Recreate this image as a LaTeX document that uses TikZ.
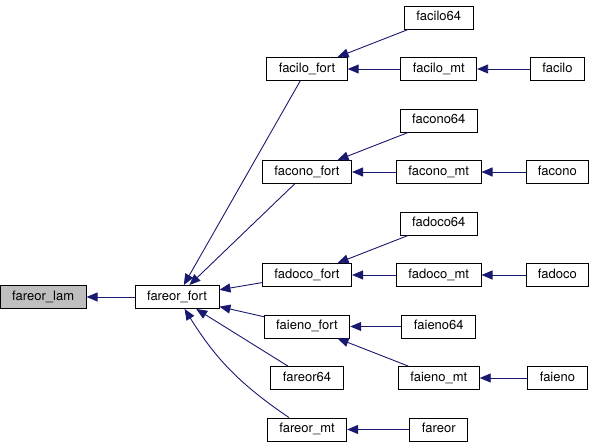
\documentclass[tikz,border=0pt]{standalone}
\usepackage{fontspec}
\setmainfont{TeX Gyre Heros}
\usetikzlibrary{arrows.meta,positioning,matrix}
\definecolor{edgeblue}{HTML}{191970}
\definecolor{rootgray}{HTML}{BFBFBF}
\tikzset{
  fn/.style={draw=black,line width=0.9pt,fill=white,inner xsep=12pt,inner ysep=0pt,
    minimum height=23pt,text height=9.5pt,text depth=3pt,font=\fontsize{13}{15}\selectfont},
  call/.style={color=edgeblue,line width=0.9pt,-{Triangle[length=11pt,width=9pt]}},
}
\begin{document}
\begin{tikzpicture}[x=1pt,y=-1pt]
  \useasboundingbox (0,0) rectangle (597,443);
  \matrix (m) [matrix of nodes,nodes={fn},row sep=27.6pt,column sep=44pt,
    matrix anchor=m-2-1.center,ampersand replacement=\&] at (307,69)
   {
     \& facilo64 \& \\
     facilo\_fort \& facilo\_mt \&[4pt] facilo \\
     \& facono64 \& \\
     facono\_fort \& facono\_mt \& facono \\
     \& fadoco64 \& \\
     fadoco\_fort \& fadoco\_mt \& fadoco \\
     faieno\_fort \& faieno64 \& \\
     fareor64 \& faieno\_mt \& faieno \\
     fareor\_mt \& fareor \& \\
   };
  \node[fn] (fareor_fort) at (177,297) {fareor\_fort};
  \node[fn,fill=rootgray,left=48pt of fareor_fort] (fareor_lam) {fareor\_lam};
  \path[call]
    (fareor_fort) edge (fareor_lam)
    (m-2-1) edge (fareor_fort)
    (m-4-1) edge (fareor_fort)
    (m-6-1) edge (fareor_fort)
    (m-7-1) edge (fareor_fort)
    (m-8-1) edge (fareor_fort)
    (m-9-1) edge[bend left=12] (fareor_fort)
    (m-1-2) edge (m-2-1)
    (m-2-2) edge (m-2-1)
    (m-2-3) edge (m-2-2)
    (m-3-2) edge (m-4-1)
    (m-4-2) edge (m-4-1)
    (m-4-3) edge (m-4-2)
    (m-5-2) edge (m-6-1)
    (m-6-2) edge (m-6-1)
    (m-6-3) edge (m-6-2)
    (m-7-2) edge (m-7-1)
    (m-8-2) edge (m-7-1)
    (m-8-3) edge (m-8-2)
    (m-9-2) edge (m-9-1);
\end{tikzpicture}
\end{document}
